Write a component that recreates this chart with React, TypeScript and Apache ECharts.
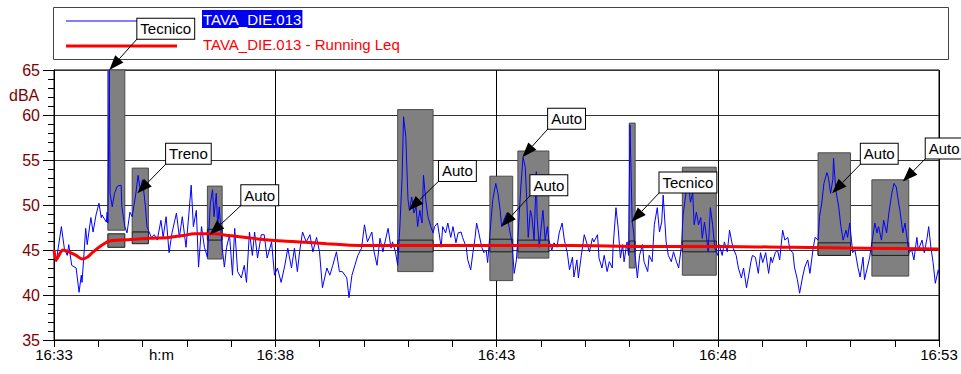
import React, { useEffect, useRef } from "react";
import * as echarts from "echarts";

const FONT = "'Liberation Sans', Arial, sans-serif";
const START_HOUR = 16;
const START_MIN = 33;

// Measured sound level (dBA) : [seconds from 16:33, dB]
const levelSeries: [number, number][] = [
  [0,45.0],[3,43.7],[10,47.6],[14,45.2],[18,44.4],[20,45.6],[24,43.3],[30,43.0],[34,40.3],[37,42.2],[38,41.4],[43,47.4],[45,45.6],[50,48.6],[53,47.0],[57,48.9],[61,50.2],[64,48.6],[65,48.9],[71,48.1],[72,49.2],[73,48.0],[75,65.0],[76,51.3],[79,49.8],[82,51.3],[86,52.1],[91,52.2],[92,49.8],[96,47.6],[99,46.9],[103,49.2],[106,48.7],[111,51.3],[114,53.3],[117,51.7],[120,52.8],[124,49.8],[126,47.6],[132,46.4],[136,46.7],[140,46.1],[145,48.3],[148,46.4],[152,48.7],[156,44.7],[160,46.9],[166,49.1],[170,46.4],[174,48.7],[179,45.3],[183,49.1],[186,52.2],[189,47.6],[193,49.4],[196,43.1],[200,47.6],[204,45.3],[208,44.2],[212,50.2],[215,51.7],[217,48.7],[220,51.3],[222,47.6],[224,49.8],[228,45.3],[231,43.1],[234,45.3],[238,46.7],[242,42.2],[245,47.4],[249,42.6],[254,41.9],[258,43.3],[261,41.4],[265,47.0],[269,44.4],[272,47.0],[276,44.1],[281,46.7],[285,46.7],[289,44.1],[295,45.9],[299,42.2],[303,43.0],[308,41.4],[313,43.3],[317,45.2],[322,43.0],[326,45.2],[330,42.6],[333,44.8],[337,47.0],[342,45.9],[347,46.7],[351,44.8],[356,46.4],[360,44.8],[364,40.8],[370,43.0],[374,42.2],[378,43.3],[383,44.8],[387,42.6],[391,42.6],[397,41.9],[400,39.7],[404,42.2],[408,43.3],[412,44.4],[417,45.2],[421,47.8],[425,45.9],[431,47.0],[434,44.8],[438,43.3],[442,46.3],[446,44.8],[448,45.6],[453,47.4],[457,45.2],[459,45.9],[463,44.8],[466,43.3],[469,47.6],[472,53.1],[474,59.8],[477,57.6],[480,50.6],[482,49.4],[485,50.9],[488,49.1],[491,49.8],[493,47.6],[496,49.4],[499,48.0],[501,53.3],[504,50.6],[507,48.7],[511,47.6],[514,46.9],[516,47.6],[520,48.0],[525,45.3],[527,47.6],[531,46.9],[534,48.0],[538,46.4],[541,47.6],[545,45.8],[548,46.9],[552,47.0],[554,46.4],[559,45.3],[561,43.9],[565,42.8],[568,44.7],[571,46.4],[573,48.0],[576,46.9],[580,45.3],[583,44.7],[586,45.0],[588,43.6],[593,48.7],[595,50.6],[599,52.4],[602,51.3],[605,49.4],[607,47.6],[610,48.3],[614,49.1],[617,47.6],[621,45.8],[624,42.4],[627,43.9],[629,46.4],[633,52.0],[636,55.3],[639,54.2],[641,50.6],[643,46.4],[646,49.4],[648,48.7],[651,46.1],[654,53.7],[655,48.7],[658,45.3],[662,48.7],[663,49.4],[666,46.1],[669,47.6],[671,46.1],[675,45.0],[678,45.8],[682,45.3],[685,46.9],[689,48.0],[692,46.1],[696,44.7],[699,42.8],[703,44.2],[705,42.0],[709,43.9],[711,41.9],[715,44.4],[719,46.7],[723,45.6],[726,44.8],[730,46.3],[732,45.9],[737,46.7],[739,44.1],[743,43.0],[746,44.4],[750,42.6],[753,43.7],[757,43.0],[758,45.2],[762,49.7],[765,47.4],[768,44.1],[771,45.6],[773,43.7],[777,45.9],[779,44.4],[781,58.9],[784,48.1],[786,47.0],[788,44.4],[791,41.9],[794,44.4],[798,45.6],[800,43.7],[805,42.6],[807,44.4],[811,43.7],[814,47.8],[818,49.7],[821,47.0],[824,48.1],[826,51.1],[830,45.9],[833,44.4],[837,43.7],[840,44.8],[844,43.7],[847,43.0],[851,45.6],[853,48.9],[857,51.4],[860,52.6],[863,50.3],[866,51.4],[868,47.8],[871,49.2],[874,47.8],[877,48.6],[879,46.3],[882,48.1],[885,46.3],[887,44.8],[890,49.7],[893,47.8],[896,45.2],[900,44.4],[902,45.6],[906,44.4],[909,45.9],[913,44.8],[916,47.2],[919,45.9],[921,45.2],[925,44.4],[928,43.0],[932,41.9],[935,43.0],[939,40.8],[942,42.2],[945,43.7],[947,44.4],[951,44.2],[955,42.4],[958,44.7],[961,43.6],[965,44.7],[969,42.4],[972,44.2],[974,43.6],[978,44.7],[981,45.0],[984,43.9],[988,47.2],[991,46.1],[995,46.4],[998,45.0],[1002,44.7],[1004,43.1],[1008,41.7],[1011,40.2],[1015,42.0],[1018,43.1],[1022,43.9],[1025,42.4],[1029,45.0],[1032,46.4],[1036,46.1],[1038,48.7],[1041,50.2],[1044,52.4],[1048,53.6],[1050,53.1],[1053,51.3],[1056,52.8],[1057,55.2],[1060,51.7],[1064,49.8],[1067,47.6],[1070,46.1],[1074,47.2],[1076,46.4],[1079,48.0],[1083,44.7],[1086,45.0],[1090,43.1],[1093,42.0],[1097,44.2],[1099,41.7],[1103,43.1],[1106,44.2],[1110,46.4],[1113,48.0],[1116,46.9],[1118,47.6],[1122,46.1],[1125,48.3],[1129,46.9],[1132,49.1],[1136,51.3],[1139,52.4],[1142,52.0],[1144,50.9],[1147,49.4],[1151,46.9],[1154,48.0],[1157,46.1],[1159,44.7],[1163,45.0],[1166,43.9],[1170,46.4],[1172,45.0],[1177,46.1],[1180,44.7],[1184,46.4],[1186,47.6],[1189,45.3],[1192,43.6],[1195,41.3],[1199,42.8],[1200,42.4]
];

// Running Leq (dBA) : [seconds, dB]
const runningLeq: [number, number][] = [
  [0,45.0],[3,43.9],[8,44.6],[12,45.0],[20,44.8],[30,44.4],[38,44.0],[45,44.2],[52,44.7],[61,45.3],[68,45.7],[75,46.0],[90,46.1],[110,46.2],[130,46.3],[156,46.4],[175,46.6],[190,46.8],[217,46.8],[238,46.6],[260,46.4],[280,46.2],[310,46.0],[333,45.9],[370,45.7],[414,45.5],[470,45.5],[520,45.5],[600,45.5],[700,45.5],[800,45.4],[900,45.4],[1000,45.3],[1100,45.2],[1200,45.1]
];

// Events: [startS, endS, maxDb, minDb, leqHigh, leqLow]
const eventRanges: number[][] = [
  [73, 96, 65.0, 47.2, 46.8, 45.3],
  [106, 128, 54.1, 47.0, 47.0, 45.7],
  [208, 228, 52.1, 44.0, 47.3, 46.1],
  [466, 514, 60.6, 42.6, 46.1, 44.8],
  [591, 622, 53.2, 41.6, 46.2, 44.8],
  [629, 671, 56.0, 44.1, 46.1, 44.8],
  [780, 788, 59.1, 43.0, 46.0, 44.8],
  [852, 898, 54.2, 42.2, 46.0, 44.8],
  [1036, 1080, 55.8, 44.4, 45.8, 44.4],
  [1109, 1159, 52.8, 42.1, 45.8, 44.4],
];

// Event labels and anchors: [labelS, labelDb(top), pointS, pointDb]
const eventLabels = ["Tecnico", "Treno", "Auto", "Auto", "Auto", "Auto", "Tecnico", "Auto", "Auto"];
const labelAnchors: number[][] = [
  [113, 70.7, 75, 65.0],
  [152, 56.8, 113, 51.3],
  [254, 52.2, 211, 46.7],
  [522, 54.9, 481, 49.4],
  [646, 53.3, 607, 47.6],
  [670, 60.7, 635, 55.3],
  [821, 53.6, 783, 48.1],
  [1094, 56.8, 1055, 51.3],
  [1182, 57.4, 1151, 52.6],
];

const legendNames = ["TAVA_DIE.013", "TAVA_DIE.013 - Running Leq"];

function fmtTime(v: number) {
  const total = START_HOUR * 60 + START_MIN + Math.round(v / 60);
  const h = Math.floor(total / 60);
  const m = total % 60;
  return `${h}:${m < 10 ? "0" + m : m}`;
}

export default function App() {
  const ref = useRef<HTMLDivElement>(null);
  useEffect(() => {
    if (!ref.current) return;
    const chart = echarts.init(ref.current, null, { renderer: "svg" });
    const option: any = {
      animation: false,
      backgroundColor: "#fff",
      textStyle: { fontFamily: FONT },
      grid: {
        left: 54, right: 22, top: 70, bottom: 34,
        show: true, borderColor: "#000", borderWidth: 1,
        containLabel: false, outerBoundsMode: "none",
      },
      xAxis: {
        type: "value", min: 0, max: 1200, interval: 300,
        axisLine: { show: true, lineStyle: { color: "#000", width: 1 } },
        axisTick: { show: true, length: 7, lineStyle: { color: "#000" } },
        minorTick: { show: true, splitNumber: 5, length: 7, lineStyle: { color: "#000" } },
        splitLine: { show: true, lineStyle: { color: "#000", width: 1 } },
        minorSplitLine: { show: false },
        axisLabel: { color: "#000", fontSize: 15, fontFamily: FONT, margin: 7, formatter: fmtTime },
      },
      yAxis: {
        type: "value", min: 35, max: 65, interval: 5,
        axisLine: { show: true, lineStyle: { color: "#000", width: 1 } },
        axisTick: { show: true, length: 11, lineStyle: { color: "#000" } },
        minorTick: { show: true, splitNumber: 5, length: 6, lineStyle: { color: "#000" } },
        splitLine: { show: true, lineStyle: { color: "#333", width: 1 } },
        minorSplitLine: { show: false },
        axisLabel: { color: "#800000", fontSize: 16, fontFamily: FONT, margin: 14 },
      },
      graphic: [
        { type: "rect", z: 1, shape: { x: 53.5, y: 7.5, width: 895, height: 52 }, style: { fill: "none", stroke: "#444", lineWidth: 1 } },
        { type: "line", z: 2, shape: { x1: 66, y1: 21, x2: 177, y2: 21 }, style: { stroke: "#0000ff", lineWidth: 1 } },
        { type: "line", z: 2, shape: { x1: 66, y1: 46, x2: 177, y2: 46 }, style: { stroke: "#ff0000", lineWidth: 3 } },
        { type: "text", z: 2, x: 202, y: 10, style: { text: legendNames[0], fill: "#fff", backgroundColor: "#0000f0", padding: [2, 1, 1, 1], fontSize: 15, fontFamily: FONT, verticalAlign: "top" } },
        { type: "text", z: 2, x: 203, y: 37, style: { text: legendNames[1], fill: "#ff0000", fontSize: 15, fontFamily: FONT, verticalAlign: "top" } },
        { type: "text", z: 2, x: 9, y: 87, style: { text: "dBA", fill: "#800000", fontSize: 16, fontFamily: FONT, verticalAlign: "top" } },
        { type: "text", z: 2, x: 149, y: 347, style: { text: "h:m", fill: "#000", fontSize: 15, fontFamily: FONT, verticalAlign: "top" } },
      ],
      series: [
        {
          type: "custom", z: 2, silent: true,
          encode: { x: [0, 1], y: [2, 3] },
          data: eventRanges,
          renderItem: (params: any, api: any) => {
            const p1 = api.coord([api.value(0), api.value(2)]);
            const p2 = api.coord([api.value(1), api.value(3)]);
            const q1 = api.coord([api.value(0), api.value(4)]);
            const q2 = api.coord([api.value(1), api.value(5)]);
            return {
              type: "group",
              children: [
                { type: "rect", shape: { x: p1[0], y: p1[1], width: p2[0] - p1[0], height: p2[1] - p1[1] }, style: { fill: "#808080", stroke: "#4a4a4a", lineWidth: 1 } },
                { type: "rect", shape: { x: q1[0], y: q1[1], width: q2[0] - q1[0], height: q2[1] - q1[1] }, style: { fill: "#7a7a7a", stroke: "#1a1a1a", lineWidth: 1 } },
              ],
            };
          },
        },
        {
          type: "line", name: legendNames[0], z: 3, silent: true,
          data: levelSeries, showSymbol: false, symbol: "none",
          lineStyle: { color: "#0000ff", width: 1 },
          itemStyle: { color: "#0000ff" },
        },
        {
          type: "line", name: legendNames[1], z: 4, silent: true,
          data: runningLeq, showSymbol: false, symbol: "none", smooth: 0.3,
          lineStyle: { color: "#ff0000", width: 3 },
          itemStyle: { color: "#ff0000" },
        },
        {
          type: "custom", z: 10, silent: true, clip: false,
          encode: { x: [0, 2], y: [1, 3] },
          data: labelAnchors,
          renderItem: (params: any, api: any) => {
            const box = api.coord([api.value(0), api.value(1)]);
            const tip = api.coord([api.value(2), api.value(3)]);
            const sx = box[0];
            const sy = box[1] + 20;
            const dx = tip[0] - sx;
            const dy = tip[1] - sy;
            const len = Math.hypot(dx, dy) || 1;
            const ux = dx / len, uy = dy / len;
            const L = 15, W = 5.5;
            const bx = tip[0] - ux * L, by = tip[1] - uy * L;
            return {
              type: "group",
              children: [
                { type: "line", shape: { x1: sx, y1: sy, x2: bx, y2: by }, style: { stroke: "#000", lineWidth: 1 } },
                { type: "polygon", shape: { points: [[tip[0], tip[1]], [bx - uy * W, by + ux * W], [bx + uy * W, by - ux * W]] }, style: { fill: "#000" } },
                {
                  type: "text", x: box[0], y: box[1],
                  style: {
                    text: eventLabels[params.dataIndex], fill: "#000", fontSize: 15, fontFamily: FONT,
                    backgroundColor: "#fff", borderColor: "#000", borderWidth: 1,
                    padding: [2, 3, 2, 3], lineHeight: 16, align: "left", verticalAlign: "top",
                  },
                },
              ],
            };
          },
        },
      ],
    };
    chart.setOption(option);
    return () => chart.dispose();
  }, []);
  return <div ref={ref} style={{ position: "fixed", left: 0, top: 0, width: 961, height: 374 }} />;
}
